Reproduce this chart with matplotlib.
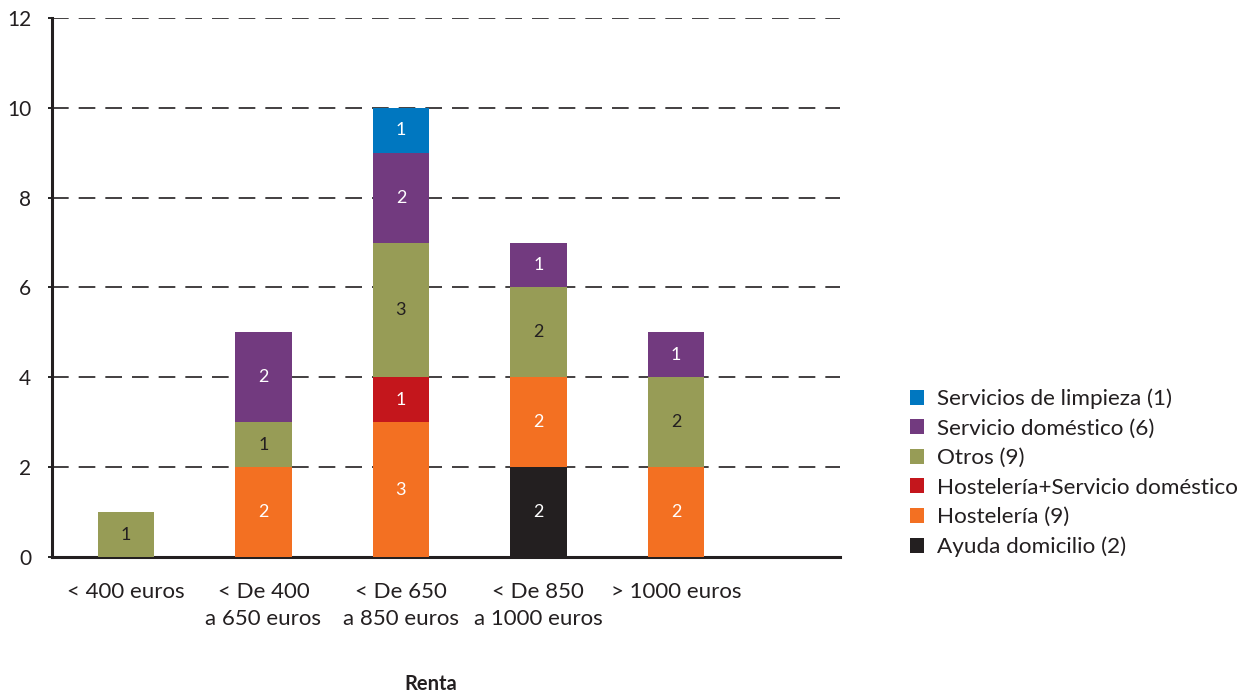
import matplotlib.pyplot as plt
import numpy as np

plt.rcParams['font.family'] = ['Lato', 'DejaVu Sans']

categories = ["< 400 euros", "< De 400\na 650 euros", "< De 650\na 850 euros",
              "< De 850\na 1000 euros", "> 1000 euros"]

# series, bottom to top of the stack
series = ["Ayuda domicilio (2)", "Hostelería (9)", "Hostelería+Servicio doméstico",
          "Otros (9)", "Servicio doméstico (6)", "Servicios de limpieza (1)"]
ayuda = [0, 0, 0, 2, 0]
hosteleria = [0, 2, 3, 2, 2]
host_serv = [0, 0, 1, 0, 0]
otros = [1, 1, 3, 2, 2]
domestico = [0, 2, 2, 1, 1]
limpieza = [0, 0, 1, 0, 0]
values = [ayuda, hosteleria, host_serv, otros, domestico, limpieza]

colors = ["#231f20", "#f37022", "#c4161c", "#979c56", "#723a7f", "#0077c0"]
label_colors = ["white", "white", "white", "#231f20", "white", "white"]

fig = plt.figure(figsize=(12.55, 6.95), dpi=100)
ax = fig.add_axes([0.0414, 0.1986, 0.6279, 0.7755])

x = np.arange(len(categories))
bottom = np.zeros(len(categories))
handles = []
for name, vals, col, tcol in zip(series, values, colors, label_colors):
    vals = np.array(vals, dtype=float)
    b = ax.bar(x, vals, 0.41, bottom=bottom, color=col, label=name, zorder=3)
    handles.append(b)
    for xi, v, bt in zip(x, vals, bottom):
        if v > 0:
            ax.text(xi, bt + v / 2, f"{int(v)}", ha='center', va='center',
                    color=tcol, fontsize=13, zorder=4)
    bottom += vals

ax.set_xlim(-0.538, 5.193)
ax.set_ylim(0, 12)
ax.set_yticks(range(0, 13, 2))
ax.yaxis.grid(True, linestyle=(0, (10, 6)), color='#231f20', linewidth=1.2, zorder=1)
ax.set_xticks(x)
ax.set_xticklabels(categories, fontsize=16, color='#231f20', linespacing=1.45)
ax.tick_params(axis='x', length=0, pad=18)
ax.tick_params(axis='y', length=3, width=1.2, labelsize=15, labelcolor='#231f20', pad=12)
for s in ['top', 'right']:
    ax.spines[s].set_visible(False)
for s in ['left', 'bottom']:
    ax.spines[s].set_linewidth(2.2)
    ax.spines[s].set_color('#231f20')

fig.text(431 / 1255, 1 - 684 / 695, "Renta", ha='center', va='center',
         fontsize=14.5, fontweight='bold', color='#231f20')

leg = fig.legend(handles[::-1], series[::-1], loc='center left',
                 bbox_to_anchor=(0.716, 1 - 473 / 695), frameon=False,
                 fontsize=16.2, handlelength=0.65, handleheight=0.65,
                 handletextpad=0.55, labelspacing=0.42, borderpad=0)
for t in leg.get_texts():
    t.set_color('#231f20')

fig.savefig("out.png", dpi=100)
